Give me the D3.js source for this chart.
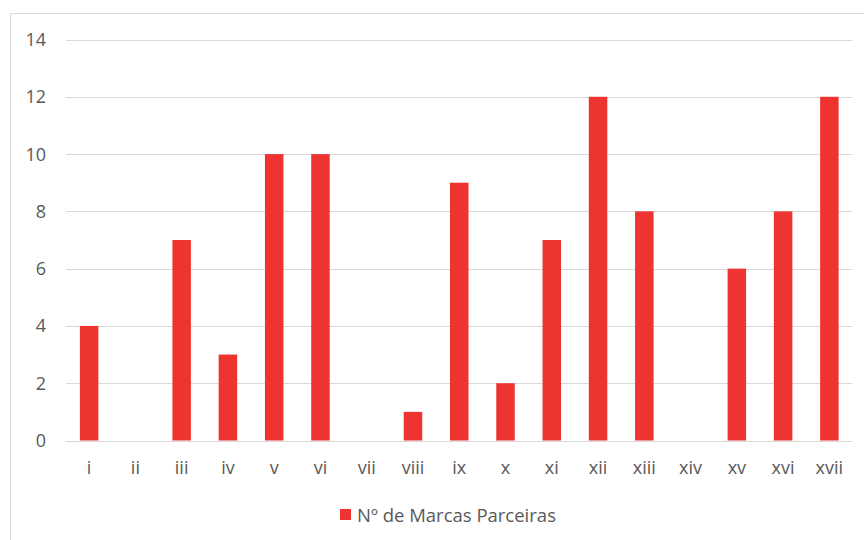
<!DOCTYPE html>
<html>
<head>
<meta charset="utf-8">
<script src="https://cdn.jsdelivr.net/npm/d3@7"></script>
<style>
  body { margin: 0; background: #fff; }
  svg { display: block; }
  text { font-family: "Open Sans", sans-serif; fill: #595959; }
</style>
</head>
<body>
<svg id="chart" width="864" height="540"></svg>
<script>
const categories = ["i","ii","iii","iv","v","vi","vii","viii","ix","x","xi","xii","xiii","xiv","xv","xvi","xvii"];
const values = [4,0,7,3,10,10,0,1,9,2,7,12,8,0,6,8,12];
const yTicks = [0,2,4,6,8,10,12,14];
const seriesName = "Nº de Marcas Parceiras";
const barColor = "#EE3430";

const svg = d3.select("#chart");

// chart area frame
svg.append("rect")
  .attr("x", 10.5).attr("y", 13.5)
  .attr("width", 900).attr("height", 600)
  .attr("fill", "none").attr("stroke", "#d9d9d9").attr("stroke-width", 1);

const plot = { left: 66, right: 852.5, top: 39.5, bottom: 440.5 };

const x = d3.scaleBand()
  .domain(categories)
  .range([plot.left, plot.right])
  .paddingInner(0.6).paddingOuter(0.3);

const y = d3.scaleLinear().domain([0, 14]).range([plot.bottom, plot.top]);

// gridlines
svg.append("g").selectAll("line")
  .data(yTicks)
  .join("line")
  .attr("x1", plot.left).attr("x2", plot.right)
  .attr("y1", d => Math.round(y(d)) + 0.5).attr("y2", d => Math.round(y(d)) + 0.5)
  .attr("stroke", "#d9d9d9").attr("stroke-width", 1);

// y labels
svg.append("g").selectAll("text")
  .data(yTicks)
  .join("text")
  .attr("x", 46).attr("y", d => y(d))
  .attr("dy", "0.36em")
  .attr("text-anchor", "end")
  .attr("font-size", 18)
  .text(d => d);

// bars
svg.append("g").selectAll("rect")
  .data(values)
  .join("rect")
  .attr("x", (d, i) => x(categories[i]))
  .attr("width", x.bandwidth())
  .attr("y", d => y(d))
  .attr("height", d => y(0) - y(d))
  .attr("fill", barColor);

// x labels
svg.append("g").selectAll("text")
  .data(categories)
  .join("text")
  .attr("x", d => x(d) + x.bandwidth() / 2)
  .attr("y", 468)
  .attr("dy", "0.36em")
  .attr("text-anchor", "middle")
  .attr("font-size", 18)
  .text(d => d);

// legend
const legend = svg.append("g").attr("transform", "translate(340,515)");
legend.append("rect")
  .attr("x", 0).attr("y", -6).attr("width", 11).attr("height", 11)
  .attr("fill", barColor);
legend.append("text")
  .attr("x", 17).attr("y", 0).attr("dy", "0.36em")
  .attr("font-size", 18.5)
  .text(seriesName);
</script>
</body>
</html>
